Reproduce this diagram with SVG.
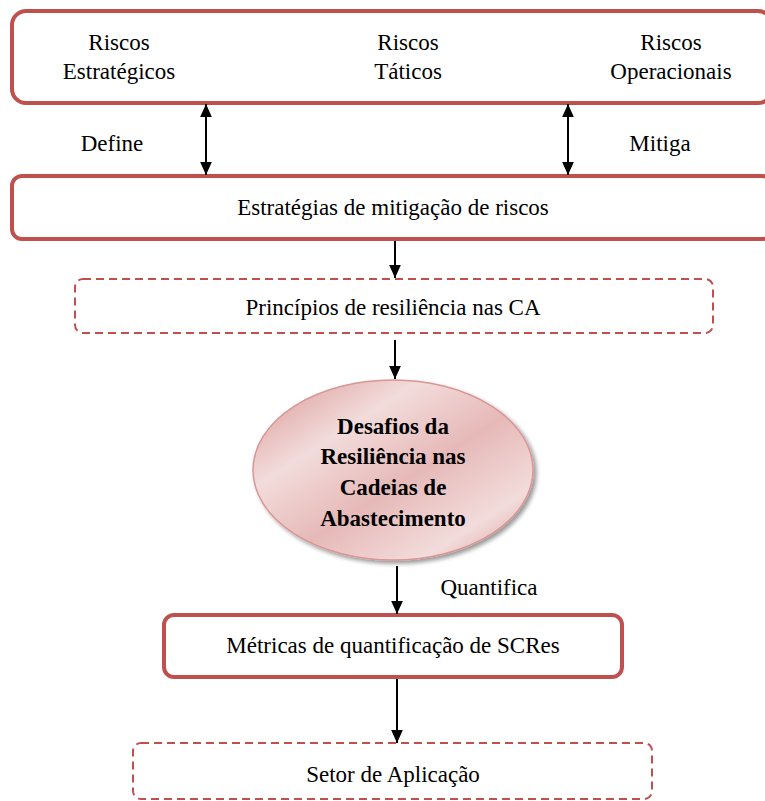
<svg xmlns="http://www.w3.org/2000/svg" width="765" height="801" viewBox="0 0 765 801">
<style>
.box{fill:#fff;stroke:#C0504D;stroke-width:4}
.dash{fill:#fff;stroke:#C0504D;stroke-width:2;stroke-dasharray:8 5}
text{font-family:'Liberation Serif','Times New Roman',Times,serif;font-size:23px;fill:#000;text-anchor:middle}
.b{font-weight:bold;font-size:23px}
.c{stroke:#000;stroke-width:2;fill:none}
</style>
<defs>
<marker id="ah2" viewBox="0 0 10 10" refX="10" refY="5" markerWidth="13" markerHeight="13" orient="auto-start-reverse" markerUnits="userSpaceOnUse">
<path d="M0,0.5 L10,5 L0,9.5 z" fill="#000"/>
</marker>
<linearGradient id="eg" x1="0" y1="0" x2="1" y2="1">
<stop offset="0" stop-color="#d99694"/>
<stop offset="0.3" stop-color="#f2dcdb"/>
<stop offset="0.55" stop-color="#e6b9b8"/>
<stop offset="0.8" stop-color="#f2dcdb"/>
<stop offset="1" stop-color="#d99694"/>
</linearGradient>
<filter id="sh" x="-10%" y="-10%" width="130%" height="130%">
<feGaussianBlur in="SourceAlpha" stdDeviation="2"/>
<feOffset dx="3" dy="3"/>
<feComponentTransfer><feFuncA type="linear" slope="0.4"/></feComponentTransfer>
<feMerge><feMergeNode/><feMergeNode in="SourceGraphic"/></feMerge>
</filter>
</defs>
<g id="riscos">
<rect class="box" x="12" y="11" width="760" height="92" rx="14"/>
<text x="119" y="50">Riscos</text>
<text x="119" y="79">Estratégicos</text>
<text x="408" y="50">Riscos</text>
<text x="408" y="79">Táticos</text>
<text x="671" y="50">Riscos</text>
<text x="671" y="79">Operacionais</text>
</g>
<g id="estrategias">
<rect class="box" x="12" y="176" width="760" height="63" rx="10"/>
<text x="393" y="215">Estratégias de mitigação de riscos</text>
</g>
<g id="principios">
<rect class="dash" x="75" y="279" width="638" height="54" rx="8"/>
<text x="393" y="315">Princípios de resiliência nas CA</text>
</g>
<g id="desafios">
<ellipse cx="393" cy="470" rx="140" ry="90" fill="url(#eg)" stroke="#d99694" stroke-width="1.5" filter="url(#sh)"/>
<text class="b" x="393" y="434">Desafios da</text>
<text class="b" x="393" y="464">Resiliência nas</text>
<text class="b" x="393" y="495">Cadeias de</text>
<text class="b" x="393" y="526">Abastecimento</text>
</g>
<g id="metricas">
<rect class="box" x="164" y="615" width="458" height="62" rx="10"/>
<text x="393" y="653">Métricas de quantificação de SCRes</text>
</g>
<g id="setor">
<rect class="dash" x="133" y="743" width="519" height="56" rx="8"/>
<text x="393" y="782">Setor de Aplicação</text>
</g>
<g id="connectors">
<line class="c" x1="206" y1="104" x2="206" y2="175" marker-start="url(#ah2)" marker-end="url(#ah2)"/>
<line class="c" x1="568" y1="104" x2="568" y2="175" marker-start="url(#ah2)" marker-end="url(#ah2)"/>
<line class="c" x1="395" y1="241" x2="395" y2="278" marker-end="url(#ah2)"/>
<line class="c" x1="395" y1="340" x2="395" y2="379" marker-end="url(#ah2)"/>
<line class="c" x1="397" y1="566" x2="397" y2="614" marker-end="url(#ah2)"/>
<line class="c" x1="397" y1="679" x2="397" y2="743" marker-end="url(#ah2)"/>
<text x="112" y="151">Define</text>
<text x="660" y="151">Mitiga</text>
<text x="489" y="595">Quantifica</text>
</g>
</svg>
